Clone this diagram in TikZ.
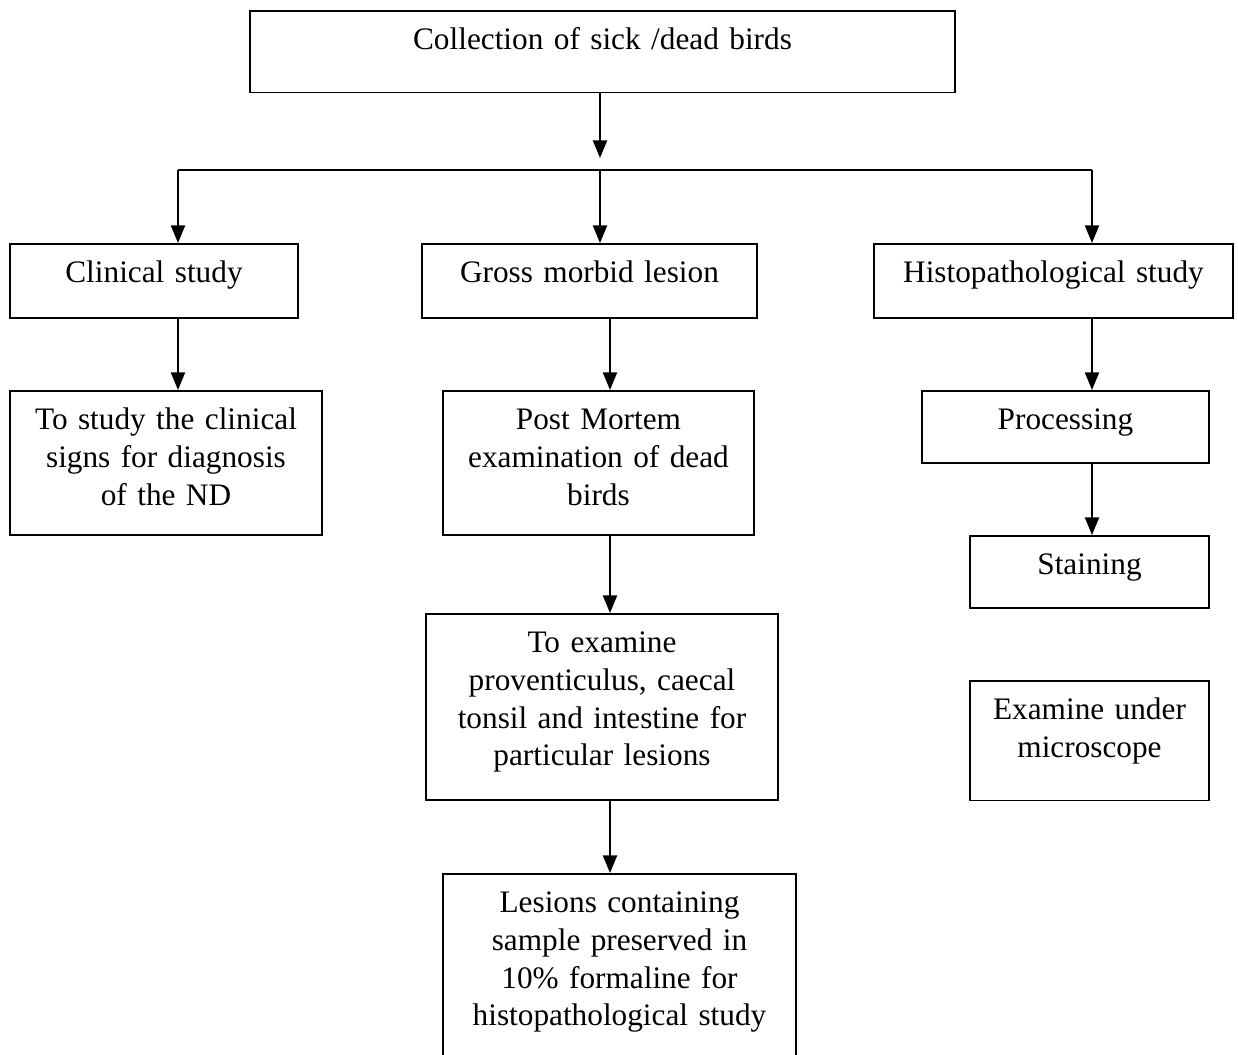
\documentclass[tikz,border=0pt]{standalone}
\usepackage{fontspec}
\setmainfont{Liberation Serif}
\usepackage{tikz}
\usetikzlibrary{arrows.meta}
\tikzset{
  stepbox/.style={draw=black, line width=1pt, rectangle, anchor=north, align=center,
    inner xsep=0pt, inner ysep=0pt, text height=22pt,
    font=\fontsize{17.8}{21.5}\selectfont},
  flow/.style={line width=1pt, -{Triangle[length=10pt,width=8pt]}}
}

\begin{document}
\begin{tikzpicture}
        \useasboundingbox[fill=white] (0,0) rectangle (24.76,-21.1);
        \clip (0,0) rectangle (24.76,-21.1);

        \node[stepbox, text width=14.1cm, text depth=24.5pt] (top) at (12.05,-0.2) {Collection of sick /dead birds};

        \node[stepbox, text width=5.76cm, text depth=20pt] (clin) at (3.08,-4.86) {Clinical study};
        \node[stepbox, text width=6.7cm, text depth=20pt] (gross) at (11.79,-4.86) {Gross morbid lesion};
        \node[stepbox, text width=7.18cm, text depth=20pt] (histo) at (21.07,-4.86) {Histopathological study};

        \node[stepbox, text width=6.24cm, text depth=60pt] (tostudy) at (3.32,-7.8) {To study the clinical\\signs for diagnosis\\of the ND};
        \node[stepbox, text width=6.22cm, text depth=60pt] (postm) at (11.97,-7.8) {Post Mortem\\examination of dead\\birds};
        \node[stepbox, text width=5.74cm, text depth=19pt] (proc) at (21.31,-7.8) {Processing};

        \node[stepbox, text width=4.78cm, text depth=19pt] (stain) at (21.79,-10.7) {Staining};
        \node[stepbox, text width=4.78cm, text depth=46pt] (micro) at (21.79,-13.6) {Examine under\\microscope};

        \node[stepbox, text width=7.04cm, text depth=84pt] (toexam) at (12.04,-12.26) {To examine\\proventiculus, caecal\\tonsil and intestine for\\particular lesions};
        \node[stepbox, text width=7.06cm, text depth=100pt] (lesion) at (12.39,-17.46) {Lesions containing\\sample preserved in\\10\% formaline for\\histopathological study};

        % branching line
        \coordinate (split) at (12,-3.16);
        \coordinate (busL) at (3.56,-3.4);
        \coordinate (busM) at (12,-3.4);
        \coordinate (busR) at (21.84,-3.4);
        \coordinate (colB) at (12.2,0);

        \draw[flow] (top.south -| split) -- (split);
        \draw[line width=1pt] (busL) -- (busR);

        \foreach \from/\to in {busL/clin, busM/gross, busR/histo}
        \draw[flow] (\from) -- (\from |- \to.north);

        \foreach \from/\to/\x in {
          clin/tostudy/busL,
          gross/postm/colB, postm/toexam/colB, toexam/lesion/colB,
          histo/proc/busR, proc/stain/busR}
        \draw[flow] (\from.south -| \x) -- (\to.north -| \x);
    \end{tikzpicture}
\end{document}
